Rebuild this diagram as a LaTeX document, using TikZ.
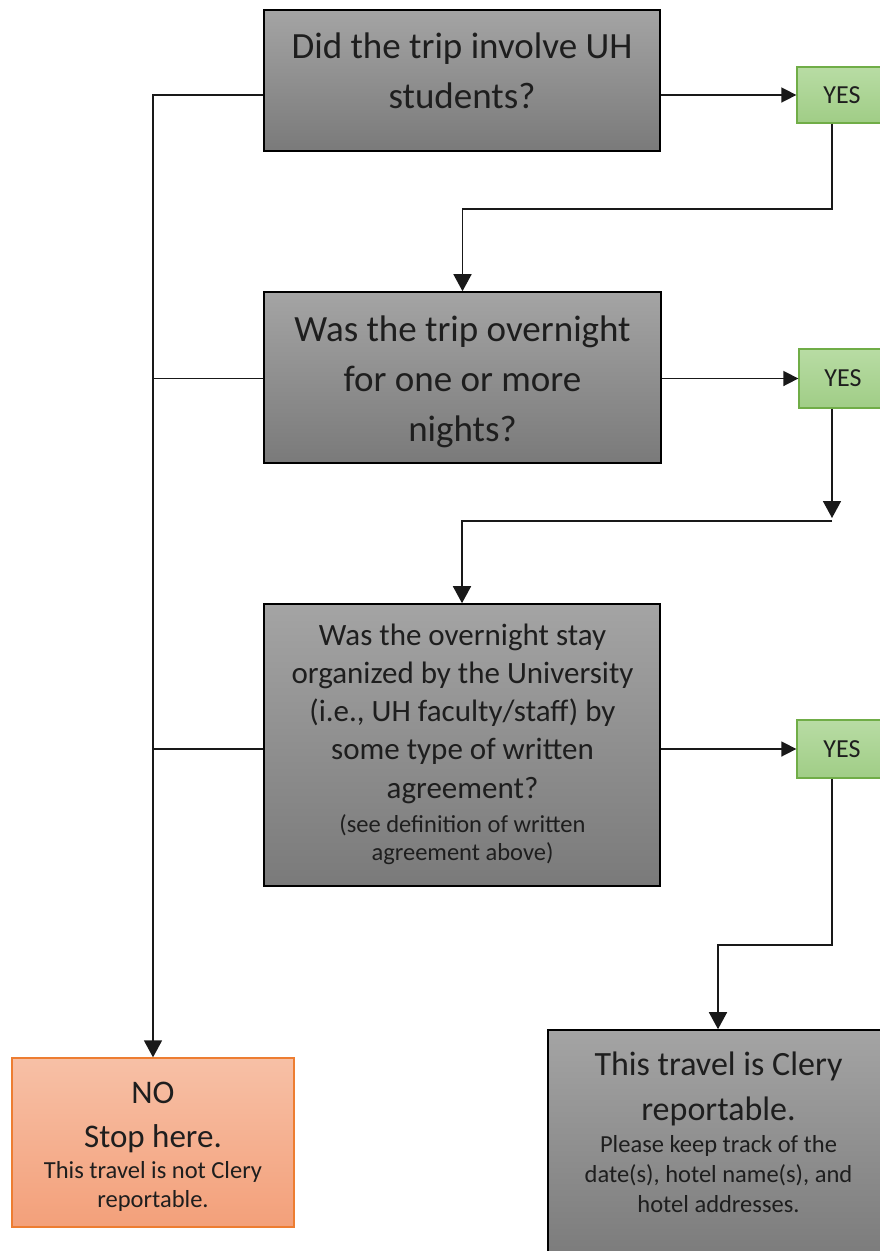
\documentclass[tikz,border=0pt]{standalone}
\usepackage{fontspec}
\setmainfont{Carlito}
\usetikzlibrary{arrows.meta}
\definecolor{graytop}{RGB}{164,164,164}
\definecolor{graybot}{RGB}{122,122,122}
\definecolor{greentop}{RGB}{184,220,164}
\definecolor{greenbot}{RGB}{160,205,134}
\definecolor{greenline}{RGB}{112,173,71}
\definecolor{salmontop}{RGB}{247,192,166}
\definecolor{salmonbot}{RGB}{243,160,122}
\definecolor{salmonline}{RGB}{237,125,49}
\definecolor{txtcol}{RGB}{30,30,30}
\tikzset{
  graybox/.style={rectangle, inner sep=0pt, draw=black, line width=1.6pt, top color=graytop, bottom color=graybot},
  yesbox/.style={rectangle, inner sep=0pt, draw=greenline, line width=1.3pt, top color=greentop, bottom color=greenbot, text=txtcol, font=\fontsize{26}{30}\selectfont},
  nobox/.style={rectangle, inner sep=0pt, draw=salmonline, line width=1.3pt, top color=salmontop, bottom color=salmonbot},
  txt/.style={inner sep=0pt, anchor=north, align=center, text=txtcol},
  conn/.style={draw=black!90, line width=1.6pt},
  arr/.style={conn, -{Triangle[width=18pt,length=17pt]}},
  arrh/.style={conn, -{Triangle[width=15pt,length=15pt]}}
}
\begin{document}
\begin{tikzpicture}[x=1pt,y=-1pt]
\path[use as bounding box] (0,0) rectangle (880,1251);
\clip (0,0) rectangle (880,1251);
\fill[white] (0,0) rectangle (880,1251);

% boxes
\node[graybox, minimum width=396pt, minimum height=141pt] (box1) at (462,80.5) {};
\node[graybox, minimum width=397pt, minimum height=171pt] (box2) at (462.5,377.5) {};
\node[graybox, minimum width=396pt, minimum height=282pt] (box3) at (462,745) {};
\node[graybox, minimum width=340pt, minimum height=235pt] (box4) at (718,1147.5) {};
\node[nobox, minimum width=282pt, minimum height=169pt] (no) at (153,1142.5) {};
\node[yesbox, minimum width=90pt, minimum height=56pt] (yes1) at (842,95) {YES};
\node[yesbox, minimum width=88pt, minimum height=59pt] (yes2) at (843,378.5) {YES};
\node[yesbox, minimum width=90pt, minimum height=58pt] (yes3) at (842,749) {YES};

% texts
\node[txt, font=\fontsize{37}{50}\selectfont] (t1) at (462,26) {\rule{0pt}{32pt}Did the trip involve UH\\students?};
\node[txt, font=\fontsize{37}{50}\selectfont] (t2) at (462.5,309) {\rule{0pt}{32pt}Was the trip overnight\\for one or more\\nights?};
\node[txt, font=\fontsize{31}{38.25}\selectfont] (t3) at (462.5,618) {\rule{0pt}{27pt}Was the overnight stay\\organized by the University\\(i.e., UH faculty/staff) by\\some type of written\\agreement?};
\node[txt, font=\fontsize{24.5}{28}\selectfont] (t3s) at (462.5,811) {\rule{0pt}{21pt}(see definition of written\\agreement above)};
\node[txt, font=\fontsize{33}{44}\selectfont] (tno) at (153,1074) {\rule{0pt}{29pt}NO\\Stop here.};
\node[txt, font=\fontsize{24.5}{29}\selectfont] (tnos) at (153,1157) {\rule{0pt}{21pt}This travel is not Clery\\reportable.};
\node[txt, font=\fontsize{34}{45}\selectfont] (t4) at (718.5,1045) {\rule{0pt}{30pt}This travel is Clery\\reportable.};
\node[txt, font=\fontsize{24.5}{30}\selectfont] (t4s) at (718.5,1131) {\rule{0pt}{21pt}Please keep track of the\\date(s), hotel name(s), and\\hotel addresses.};

% junction points
\coordinate (j1) at (832,209);
\coordinate (j2) at (832,518);
\coordinate (j3) at (832,521);
\coordinate (j4) at (832,945);

% YES connectors
\draw[arrh] (yes1.west -| box1.east) -- (yes1.west);
\draw[arrh] (yes2.west -| box2.east) -- (yes2.west);
\draw[arrh] (yes3.west -| box3.east) -- (yes3.west);
\draw[arr] (yes1.south -| j1) -- (j1) -| (box2.north);
\draw[arr] (yes2.south -| j2) -- (j2);
\draw[arr] (j3) -| (box3.north);
\draw[arr] (yes3.south -| j4) -- (j4) -| (box4.north);

% NO connectors
\draw[arr] (yes1.west -| box1.west) -| (no.north);
\draw[conn] (yes2.west -| box2.west) -- (yes2.west -| no.north);
\draw[conn] (yes3.west -| box3.west) -- (yes3.west -| no.north);
\end{tikzpicture}
\end{document}
